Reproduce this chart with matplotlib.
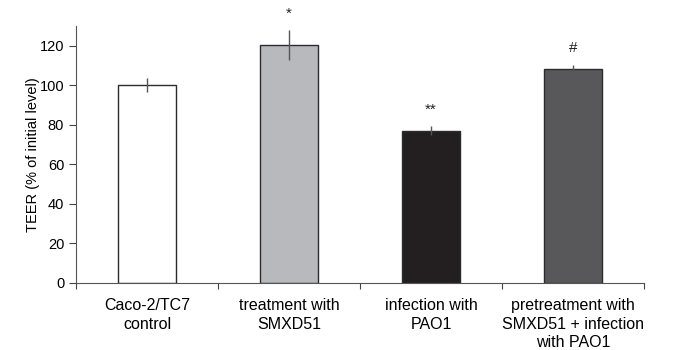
import matplotlib
matplotlib.use('Agg')
import matplotlib.pyplot as plt

plt.rcParams['font.family'] = ['Liberation Sans', 'DejaVu Sans']

categories = ['Caco-2/TC7\ncontrol', 'treatment with\nSMXD51', 'infection with\nPAO1',
              'pretreatment with\nSMXD51 + infection\nwith PAO1']
teer = [100, 120.3, 77, 108.2]
errors = [3.5, 7.4, 2.1, 2.1]
marks = ['', '*', '**', '#']
colors = ['#ffffff', '#b8b9bd', '#231f20', '#58585a']

fig = plt.figure(figsize=(6.73, 3.5), dpi=100)
ax = fig.add_axes([0.113, 0.192, 0.844, 0.734])

x = list(range(len(categories)))
ax.bar(x, teer, width=0.41, color=colors, edgecolor='#2b2b2b', linewidth=1.0, zorder=2)
ax.errorbar(x, teer, yerr=errors, fmt='none', ecolor='#555555', elinewidth=1.0, capsize=0, zorder=3)

for xi, v, e, m in zip(x, teer, errors, marks):
    if m:
        ax.text(xi, v + e + 5, m, ha='center', va='bottom', fontsize=11, color='#222222')

ax.set_xlim(-0.5, len(categories) - 0.5)
ax.set_ylim(0, 130)
ax.set_yticks(range(0, 121, 20))
ax.set_xticks([i - 0.5 for i in range(len(categories) + 1)])
ax.set_xticklabels([])
ax.set_xticks(x, minor=True)
ax.set_xticklabels(categories, minor=True, fontsize=11.5, linespacing=1.3)
ax.tick_params(axis='x', which='minor', length=0, pad=11)
ax.tick_params(axis='x', which='major', length=4, color='#444444')
ax.tick_params(axis='y', length=5, labelsize=10.5, color='#444444')
ax.set_ylabel('TEER (% of initial level)', fontsize=10.5, labelpad=0)

for s in ['top', 'right']:
    ax.spines[s].set_visible(False)
for s in ['left', 'bottom']:
    ax.spines[s].set_color('#555555')

plt.savefig('out.png', dpi=100)
